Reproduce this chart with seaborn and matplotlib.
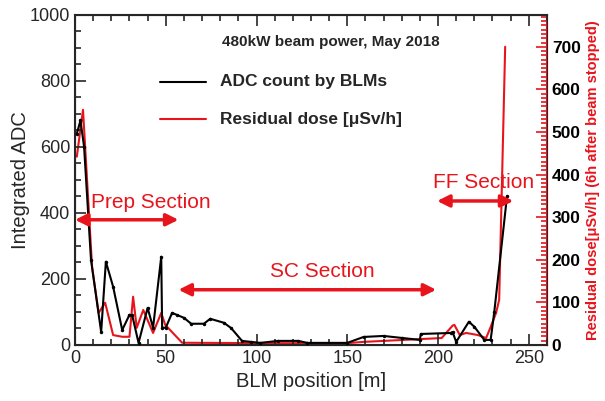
import numpy as np
import pandas as pd
import matplotlib
matplotlib.use("Agg")
import matplotlib.pyplot as plt
import seaborn as sns
from matplotlib.ticker import MultipleLocator

#### Data
# ADC count by BLMs (left axis)
adc_pos = [1, 3, 5, 8.8, 14.4, 17, 21, 26, 30, 31.5, 35, 40, 43, 47.5, 48, 50,
           53.5, 56, 60, 64, 71, 74.5, 82, 86, 92, 97, 102, 112, 123, 128,
           150, 159, 170, 180, 190, 190.5, 207, 208, 210, 217, 220, 225.5, 229,
           231, 238]
adc_val = [640, 680, 600, 258, 39, 252, 176, 45, 91, 90, 6, 112, 52, 267, 52, 52,
           97, 91, 82, 64, 64, 79, 67, 51, 12, 9, 6, 12, 12, 6,
           6, 24, 27, 21, 15, 33, 36, 39, 9, 70, 55, 15, 15,
           100, 450]

# residual dose (right axis)
dose_pos = [1, 4.4, 9.4, 13, 16.6, 21, 26, 30, 32, 34, 37.6, 43, 47.5, 49.7,
            59, 100, 150, 159, 202, 208, 209, 212, 215.5, 222, 226.5, 229, 232,
            233.7, 237]
dose_val = [442, 552, 183, 75, 99, 23, 19, 19, 113, 40, 82, 28, 75, 47,
            5, 4, 4, 7, 16, 45, 47, 23, 28, 23, 16, 42, 75,
            106, 700]

# section arrows: start, end, y (left axis units)
sections = ["Prep Section", "SC Section", "FF Section"]
sec_start = [0, 57, 199.5]
sec_end = [57, 199, 241.5]
sec_y = [379, 167, 436]
sec_text_x = [42, 136.5, 225]
sec_text_y = [430, 221, 491]

adc = pd.DataFrame({"pos": adc_pos, "adc": adc_val})
dose = pd.DataFrame({"pos": dose_pos, "dose": dose_val})

#### Plot
sns.set_style("ticks")
plt.rcParams["font.family"] = ["Liberation Sans", "DejaVu Sans"]

fig = plt.figure(figsize=(6.05, 4.01), dpi=100)
ax = fig.add_axes([0.124, 0.14, 0.78, 0.823])
ax2 = ax.twinx()

sns.lineplot(data=adc, x="pos", y="adc", ax=ax, color="black", lw=1.5,
             marker="o", markersize=2.5, markeredgewidth=0, zorder=3)
sns.lineplot(data=dose, x="pos", y="dose", ax=ax2, color="#e8141c", lw=1.5,
             zorder=2)

ax.set_xlim(0, 260)
ax.set_ylim(0, 1000)
ax2.set_ylim(0, 775)

ax.xaxis.set_major_locator(MultipleLocator(50))
ax.xaxis.set_minor_locator(MultipleLocator(10))
ax.yaxis.set_major_locator(MultipleLocator(200))
ax.yaxis.set_minor_locator(MultipleLocator(50))
ax2.yaxis.set_major_locator(MultipleLocator(100))
ax2.yaxis.set_minor_locator(MultipleLocator(10))

ax.tick_params(which="both", direction="in", top=True, labelsize=13, width=1.2)
ax.tick_params(which="major", length=8)
ax.tick_params(which="minor", length=4)
ax2.tick_params(which="both", direction="in", colors="#e8141c", width=1.2)
ax2.tick_params(which="major", length=8)
ax2.tick_params(which="minor", length=4)
for lab in ax2.get_yticklabels():
    lab.set_color("black")
    lab.set_fontweight("bold")
    lab.set_fontsize(12.5)

for sp in ["left", "bottom", "top"]:
    ax.spines[sp].set_linewidth(1.5)
ax2.spines["right"].set_color("#e8141c")
ax2.spines["right"].set_linewidth(1.5)

ax.set_xlabel("BLM position [m]", fontsize=14.5)
ax.set_ylabel("Integrated ADC", fontsize=14.5, labelpad=0)
ax2.set_ylabel("Residual dose[\u03bcSv/h] (6h after beam stopped)",
               color="#e8141c", fontsize=10.5, fontweight="bold")

# title and legend-like labels
ax.text(0.312, 0.905, "480kW beam power, May 2018", transform=ax.transAxes,
        fontsize=11, fontweight="bold")
ax.plot([0.181, 0.277], [0.798, 0.798], transform=ax.transAxes, color="black", lw=1.5)
ax.text(0.308, 0.798, "ADC count by BLMs", transform=ax.transAxes,
        fontsize=12.5, fontweight="bold", va="center")
ax.plot([0.181, 0.277], [0.683, 0.683], transform=ax.transAxes, color="#e8141c", lw=1.5)
ax.text(0.308, 0.683, "Residual dose [\u03bcSv/h]", transform=ax.transAxes,
        fontsize=12.5, fontweight="bold", va="center")

# section arrows
for name, x0, x1, y, tx, ty in zip(sections, sec_start, sec_end, sec_y, sec_text_x, sec_text_y):
    ax.annotate("", xy=(x0, y), xytext=(x1, y),
                arrowprops=dict(arrowstyle="<|-|>", color="#e8141c", lw=2.5,
                                mutation_scale=18, shrinkA=0, shrinkB=0))
    ax.text(tx, ty, name, color="#e8141c", fontsize=15, ha="center", va="center")

ax.set_zorder(ax2.get_zorder() + 1)
ax.patch.set_visible(False)

fig.savefig("out.png", dpi=100)
